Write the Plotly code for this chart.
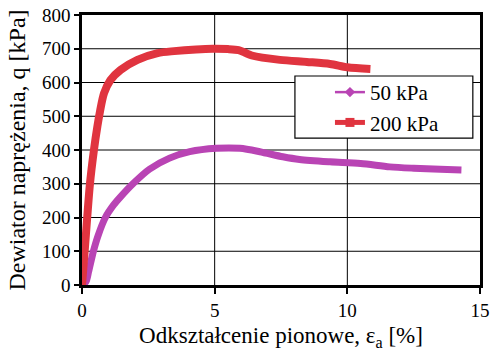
import plotly.graph_objects as go

# 200 kPa series
x_200 = [0, 0.1, 0.3, 0.45, 0.58, 0.68, 0.83, 1.07, 1.45, 2.09, 2.85, 3.47, 4.3, 4.93, 5.5, 5.9, 6.15, 6.4, 7.46, 8.47, 9.35, 10.0, 10.87]
y_200 = [0, 100, 300, 400, 470, 515, 568, 607, 637, 667, 687, 693, 698, 700, 699, 696, 688, 680, 667, 661, 655, 645, 640]

# 50 kPa series
x_50 = [0, 0.15, 0.25, 0.43, 0.6, 0.88, 1.2, 1.46, 1.92, 2.54, 3.3, 4.06, 5.06, 5.95, 6.7, 7.57, 8.2, 9.35, 10.5, 11.6, 12.5, 13.5, 14.3]
y_50 = [0, 10, 40, 100, 145, 200, 238, 262, 300, 343, 376, 395, 405, 405, 395, 380, 372, 365, 360, 350, 346, 343, 341]

x_ticks = [0, 5, 10, 15]
y_ticks = [0, 100, 200, 300, 400, 500, 600, 700, 800]

RED = "#e0343f"
MAG = "#b944b4"
FONT = "Liberation Serif"

fig = go.Figure()
fig.add_trace(go.Scatter(x=x_50, y=y_50, mode="lines", line=dict(color=MAG, width=7, shape="spline", smoothing=0.8), showlegend=False))
fig.add_trace(go.Scatter(x=x_200, y=y_200, mode="lines", line=dict(color=RED, width=8, shape="spline", smoothing=0.8), showlegend=False))
# legend entries
fig.add_trace(go.Scatter(x=[None], y=[None], mode="lines+markers", name="50 kPa",
                         line=dict(color=MAG, width=2.5), marker=dict(symbol="diamond", size=8, color=MAG)))
fig.add_trace(go.Scatter(x=[None], y=[None], mode="lines+markers", name="200 kPa",
                         line=dict(color=RED, width=5), marker=dict(symbol="square", size=9, color=RED)))

shapes = []
for v in x_ticks[1:-1]:
    shapes.append(dict(type="line", xref="x", yref="paper", x0=v, x1=v, y0=0, y1=1,
                       line=dict(color="black", width=1), layer="below"))
for v in y_ticks[1:-1]:
    shapes.append(dict(type="line", xref="paper", yref="y", x0=0, x1=1, y0=v, y1=v,
                       line=dict(color="black", width=1), layer="below"))
# legend frame
shapes.append(dict(type="rect", xref="paper", yref="paper", x0=0.535, x1=0.982, y0=0.544, y1=0.774,
                   fillcolor="white", line=dict(color="black", width=1.2), layer="above"))

fig.update_layout(
    width=493, height=363,
    margin=dict(l=82, r=13, t=15, b=78),
    paper_bgcolor="white", plot_bgcolor="white",
    font=dict(family=FONT, color="black", size=19),
    shapes=shapes,
    legend=dict(x=0.623, y=0.789, xanchor="left", yanchor="top",
                bgcolor="rgba(0,0,0,0)", borderwidth=0,
                font=dict(family=FONT, size=21, color="black"),
                tracegroupgap=0),
    xaxis=dict(range=[0, 15], tickvals=x_ticks, ticks="outside", ticklen=6, tickwidth=1.5, tickcolor="black",
               showgrid=False, ticklabeloverflow="allow", automargin=False,
               showline=True, linecolor="black", linewidth=2.5, mirror=True, zeroline=False,
               tickfont=dict(family=FONT, size=19),
               title=dict(text="Odkształcenie pionowe, ε<sub>a</sub> [%]", font=dict(family=FONT, size=23), standoff=8)),
    yaxis=dict(range=[0, 800], tickvals=y_ticks, ticks="outside", ticklen=5, tickwidth=1.5, tickcolor="black",
               showgrid=False, ticklabeloverflow="allow", automargin=False,
               showline=True, linecolor="black", linewidth=2.5, mirror=True, zeroline=False,
               tickfont=dict(family=FONT, size=19),
               title=dict(text="Dewiator naprężenia, q [kPa]", font=dict(family=FONT, size=24), standoff=10)),
)

fig.write_html("out.html", config={"displayModeBar": False},
               post_script="document.body.style.margin='0';document.body.style.overflow='hidden';")
